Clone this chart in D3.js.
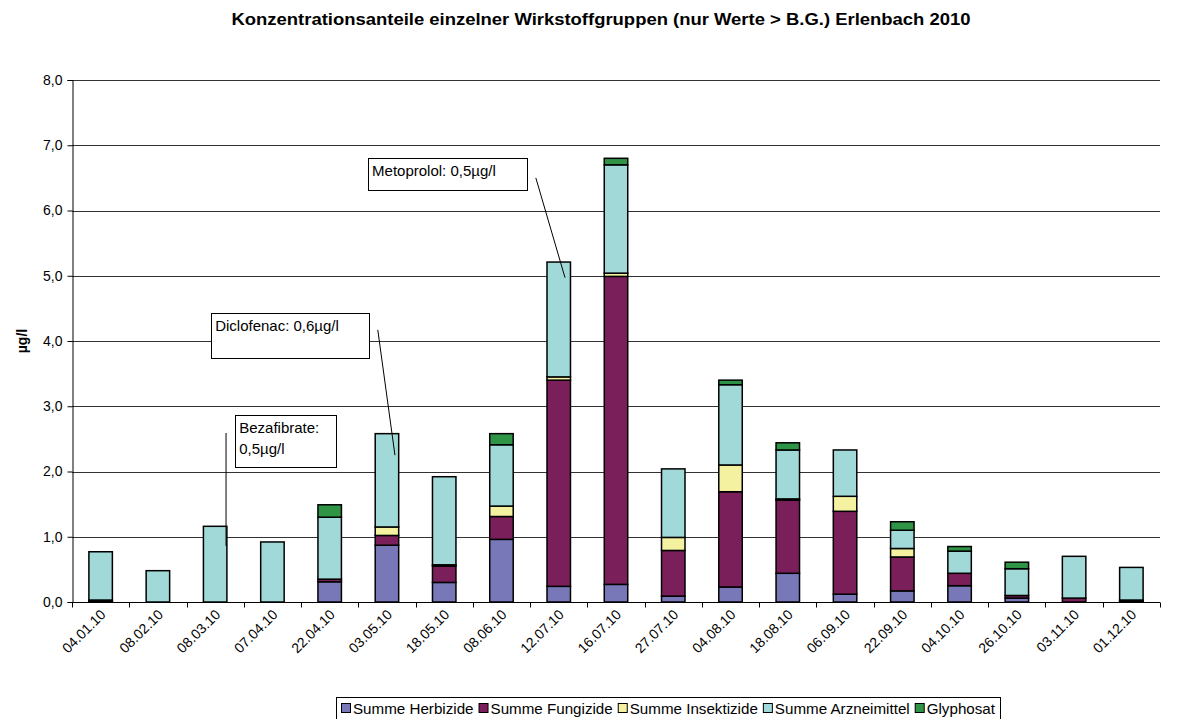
<!DOCTYPE html>
<html>
<head>
<meta charset="utf-8">
<script src="https://cdn.jsdelivr.net/npm/d3@7"></script>
<style>
  body { margin: 0; background: #fff; }
  svg { font-family: "Liberation Sans", Arial, sans-serif; }
  .bar { stroke: #000; stroke-width: 1.5; }
</style>
</head>
<body>
<svg id="chart"></svg>
<script>
var width = 1184,
  height = 719;

var dates = ['04.01.10', '08.02.10', '08.03.10', '07.04.10', '22.04.10', '03.05.10',
  '18.05.10', '08.06.10', '12.07.10', '16.07.10', '27.07.10', '04.08.10',
  '18.08.10', '06.09.10', '22.09.10', '04.10.10', '26.10.10', '03.11.10', '01.12.10'];

var groups = ['Summe Herbizide', 'Summe Fungizide', 'Summe Insektizide', 'Summe Arzneimittel', 'Glyphosat'];
var colors = ['#7878b9', '#7a1f5a', '#f4f2a0', '#a1d9d9', '#2f9446'];

// values in µg/l
var herbizide    = [0.01, 0, 0, 0, 0.31, 0.87, 0.30, 0.96, 0.24, 0.27, 0.09, 0.23, 0.44, 0.12, 0.17, 0.25, 0.06, 0, 0.01];
var fungizide    = [0.02, 0, 0, 0, 0.04, 0.15, 0.25, 0.35, 3.16, 4.72, 0.70, 1.46, 1.12, 1.27, 0.52, 0.19, 0.04, 0.06, 0.02];
var insektizide  = [0, 0, 0, 0, 0, 0.13, 0.02, 0.16, 0.05, 0.05, 0.20, 0.41, 0.02, 0.23, 0.13, 0, 0, 0, 0];
var arzneimittel = [0.74, 0.48, 1.16, 0.92, 0.95, 1.43, 1.35, 0.94, 1.76, 1.66, 1.05, 1.23, 0.75, 0.71, 0.28, 0.34, 0.41, 0.64, 0.50];
var glyphosat    = [0, 0, 0, 0, 0.19, 0, 0, 0.17, 0, 0.10, 0, 0.07, 0.11, 0, 0.13, 0.07, 0.10, 0, 0];

var yTicks = [0, 1, 2, 3, 4, 5, 6, 7, 8];

// callouts: box in (category index, value) units, leader line from -> to
var notes = [
  { lines: ['Metoprolol: 0,5µg/l'], box: [5.17, 6.80, 7.95, 6.31], from: [8.10, 6.50], to: [8.61, 4.97] },
  { lines: ['Diclofenac: 0,6µg/l'], box: [2.43, 4.43, 5.19, 3.74], from: [5.34, 4.17], to: [5.64, 2.25] },
  { lines: ['Bezafibrate:', '0,5µg/l'], box: [2.85, 2.87, 4.61, 2.08], from: [2.69, 2.59], to: [2.69, 0.86] }
];

var series = [herbizide, fungizide, insektizide, arzneimittel, glyphosat];
var table = dates.map(function(d, i) {
  var row = { date: d };
  groups.forEach(function(g, j) { row[g] = series[j][i]; });
  return row;
});

var margin = { top: 80, right: 24, bottom: 117, left: 72 };

var svg = d3.select('#chart')
  .attr('width', width)
  .attr('height', height);

var x = d3.scaleBand()
  .domain(dates)
  .range([margin.left, width - margin.right])
  .paddingInner(0.59)
  .paddingOuter(0.295);

// fractional category position, for the callouts
var xf = d3.scaleLinear()
  .domain([0, dates.length])
  .range([margin.left, width - margin.right]);

var y = d3.scaleLinear()
  .domain([0, 8])
  .range([height - margin.bottom, margin.top]);

svg.append('text')
  .attr('x', 601)
  .attr('y', 25)
  .attr('text-anchor', 'middle')
  .attr('font-weight', 'bold')
  .attr('font-size', 16)
  .attr('textLength', 739)
  .attr('lengthAdjust', 'spacingAndGlyphs')
  .text('Konzentrationsanteile einzelner Wirkstoffgruppen (nur Werte > B.G.) Erlenbach 2010');

// gridlines
svg.append('g')
  .selectAll('line')
  .data(yTicks)
  .enter().append('line')
  .attr('x1', margin.left)
  .attr('x2', width - margin.right)
  .attr('y1', function(d) { return Math.round(y(d)) + 0.5; })
  .attr('y2', function(d) { return Math.round(y(d)) + 0.5; })
  .attr('stroke', function(d) { return d === 0 ? '#000' : '#333'; });

var layers = d3.stack().keys(groups)(table);

svg.append('g')
  .selectAll('g')
  .data(layers)
  .enter().append('g')
  .attr('fill', function(d, i) { return colors[i]; })
  .selectAll('rect')
  .data(function(d) { return d.filter(function(p) { return p[1] - p[0] > 0; }); })
  .enter().append('rect')
  .attr('class', 'bar')
  .attr('x', function(d) { return x(d.data.date); })
  .attr('width', x.bandwidth())
  .attr('y', function(d) { return y(d[1]); })
  .attr('height', function(d) { return y(d[0]) - y(d[1]); });

// y axis
var yAxis = svg.append('g')
  .attr('transform', 'translate(' + (margin.left + 0.5) + ',0)')
  .call(d3.axisLeft(y)
    .tickValues(yTicks)
    .tickSize(5)
    .tickPadding(5)
    .tickFormat(function(d) { return d3.format('.1f')(d).replace('.', ','); }));
yAxis.selectAll('text').attr('font-size', 14).attr('fill', '#000');
yAxis.selectAll('line').attr('stroke', '#000');
yAxis.select('.domain').attr('stroke', '#000');

// x axis
var xAxis = svg.append('g')
  .attr('transform', 'translate(0,' + (Math.round(y(0)) + 0.5) + ')');

xAxis.append('line')
  .attr('x1', margin.left)
  .attr('x2', width - margin.right)
  .attr('stroke', '#000');

xAxis.selectAll('.sep')
  .data(d3.range(dates.length + 1))
  .enter().append('line')
  .attr('class', 'sep')
  .attr('x1', function(d) { return Math.round(xf(d)) + 0.5; })
  .attr('x2', function(d) { return Math.round(xf(d)) + 0.5; })
  .attr('y1', 0)
  .attr('y2', 5)
  .attr('stroke', '#000');

xAxis.selectAll('.lbl')
  .data(dates)
  .enter().append('text')
  .attr('class', 'lbl')
  .attr('font-size', 14)
  .attr('fill', '#000')
  .attr('text-anchor', 'end')
  .attr('transform', function(d) {
    return 'translate(' + (x(d) + x.bandwidth() / 2 + 6) + ',13)rotate(-45)';
  })
  .text(function(d) { return d; });

svg.append('text')
  .attr('transform', 'translate(27,' + y(4) + ')rotate(-90)')
  .attr('text-anchor', 'middle')
  .attr('font-weight', 'bold')
  .attr('font-size', 14)
  .text('µg/l');

// callouts
var note = svg.append('g')
  .selectAll('g')
  .data(notes)
  .enter().append('g');

note.append('line')
  .attr('x1', function(d) { return xf(d.from[0]); })
  .attr('y1', function(d) { return y(d.from[1]); })
  .attr('x2', function(d) { return xf(d.to[0]); })
  .attr('y2', function(d) { return y(d.to[1]); })
  .attr('stroke', '#000');

note.append('rect')
  .attr('x', function(d) { return Math.round(xf(d.box[0])) + 0.5; })
  .attr('y', function(d) { return Math.round(y(d.box[1])) + 0.5; })
  .attr('width', function(d) { return Math.round(xf(d.box[2]) - xf(d.box[0])); })
  .attr('height', function(d) { return Math.round(y(d.box[3]) - y(d.box[1])); })
  .attr('fill', '#fff')
  .attr('stroke', '#000');

note.each(function(d) {
  var t = d3.select(this).append('text')
    .attr('font-size', 15)
    .attr('x', xf(d.box[0]) + 4)
    .attr('y', y(d.box[1]) + 18);
  d.lines.forEach(function(l, i) {
    t.append('tspan')
      .attr('x', xf(d.box[0]) + 4)
      .attr('dy', i === 0 ? 0 : 21)
      .text(l);
  });
});

// legend, spread to the reference width
var legendLeft = 336, legendRight = 1000, ly = 709;
var legend = svg.append('g');
var box = legend.append('rect')
  .attr('x', legendLeft + 0.5)
  .attr('y', 697.5)
  .attr('height', 24)
  .attr('fill', '#fff')
  .attr('stroke', '#000');

var texts = legend.selectAll('text')
  .data(groups)
  .enter().append('text')
  .attr('font-size', 14)
  .attr('fill', '#000')
  .text(function(d) { return d; });

var natural = [];
texts.each(function() { natural.push(this.getComputedTextLength()); });
var fixed = 5 + groups.length * 13 + (groups.length - 1) * 4 + 4;
var k = (legendRight - legendLeft - fixed) / d3.sum(natural);

var lx = legendLeft + 5;
texts.each(function(d, i) {
  var w = natural[i] * k;
  legend.append('rect')
    .attr('x', lx + 0.5)
    .attr('y', ly - 5.5)
    .attr('width', 9)
    .attr('height', 9)
    .attr('fill', colors[i])
    .attr('stroke', '#000');
  d3.select(this)
    .attr('x', lx + 12)
    .attr('y', ly + 5)
    .attr('textLength', w)
    .attr('lengthAdjust', 'spacingAndGlyphs');
  lx += 13 + w + 4;
});
box.attr('width', legendRight - legendLeft);
</script>
</body>
</html>
